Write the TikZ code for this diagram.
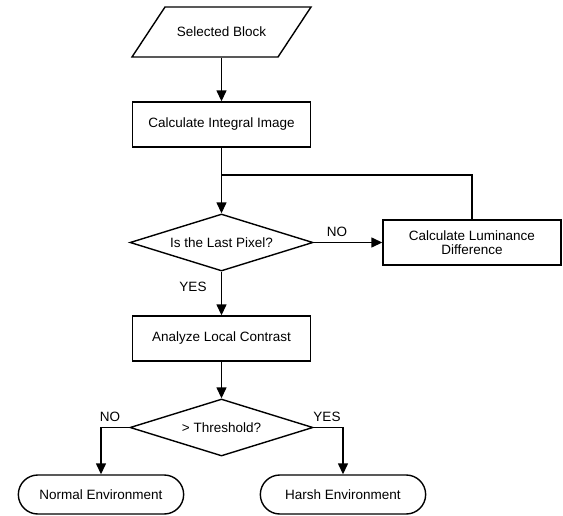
\documentclass[tikz,border=0pt]{standalone}
\usepackage{fontspec}
\setmainfont{Liberation Sans}
\usetikzlibrary{arrows.meta, shapes.geometric, shapes.misc, calc}

\tikzset{
  box/.style={draw, rectangle, minimum width=178pt, minimum height=45pt, align=center},
  decision/.style={draw, diamond, aspect=3.2, minimum width=183pt, minimum height=57pt, inner sep=0pt},
  inout/.style={rectangle, minimum width=146pt, minimum height=50pt},
  terminal/.style={draw, rounded rectangle, minimum width=172pt, minimum height=39pt},
  arr/.style={-{Triangle[length=11pt,width=10pt]}},
}

\begin{document}
\begin{tikzpicture}[x=1pt,y=-1pt,line width=1.4pt,font=\fontsize{13.5}{16}\selectfont]
  \useasboundingbox (0,0) rectangle (563,515);
  \node[inout] (sel) at (221.5,32) {Selected Block};
  \draw ($(sel.center)+(-89.5,25)$) -- ($(sel.center)+(-56.5,-25)$)
    -- ($(sel.center)+(89.5,-25)$) -- ($(sel.center)+(56.5,25)$) -- cycle;
  \node[box] (integ) at (221.5,124.5) {Calculate Integral Image};
  \coordinate (join) at (221.5,175);
  \node[decision] (last) at (221.5,242.5) {Is the Last Pixel?};
  \node[box] (lumi) at (472,242.5) {Calculate Luminance\\[-2pt]Difference};
  \node[box] (anal) at (221.5,338.5) {Analyze Local Contrast};
  \node[decision] (thr) at (221.5,427.5) {> Threshold?};
  \node[terminal] (normal) at (101,494.5) {Normal Environment};
  \node[terminal] (harsh) at (343,494.5) {Harsh Environment};

  \node (no1) at (337,232) {NO};
  \node (yes1) at (193,287) {YES};
  \node (no2) at (110,417) {NO};
  \node (yes2) at (327,417) {YES};

  \draw[arr] (sel) -- (integ);
  \draw[arr] (integ) -- (last);
  \draw (lumi.north) |- (join);
  \draw[arr] (last) -- (lumi);
  \draw[arr] (last) -- (anal);
  \draw[arr] (anal) -- (thr);
  \draw[arr] (thr.west) -| (normal.north);
  \draw[arr] (thr.east) -| (harsh.north);
\end{tikzpicture}
\end{document}
